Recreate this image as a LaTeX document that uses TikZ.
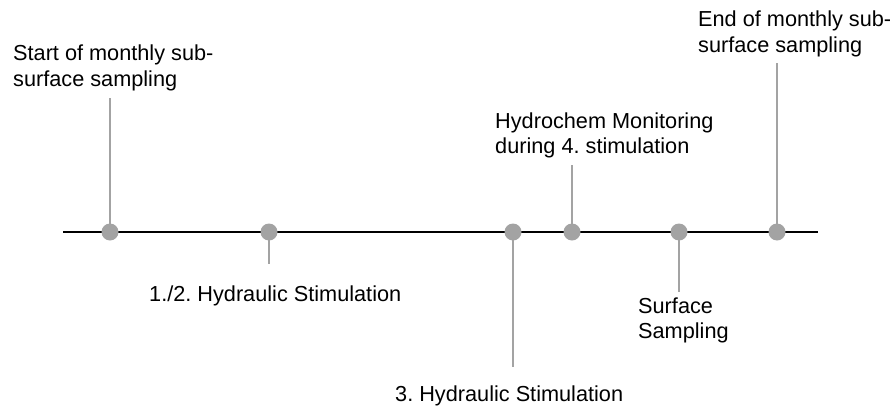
\documentclass[tikz,border=0pt]{standalone}
\usepackage{fontspec}
\setmainfont{Liberation Sans}
\frenchspacing
\definecolor{evgray}{RGB}{163,163,163}

\begin{document}
\begin{tikzpicture}[x=1pt,y=-1pt,font=\fontsize{21.7}{25.5}\selectfont,
  event/.style={circle,fill=evgray,inner sep=0pt,minimum size=17pt},
  stem/.style={draw=evgray,line width=2.3pt},
  lbl/.style={inner sep=0pt,align=left,anchor=base west}]

\useasboundingbox (0,0) rectangle (894,407);

\coordinate (t0) at (63,232);
\coordinate (t1) at (818,232);

% stem ends
\coordinate (s1) at (110,98);
\coordinate (s2) at (269,264);
\coordinate (s3) at (513,367);
\coordinate (s4) at (572,165);
\coordinate (s5) at (679,292);
\coordinate (s6) at (777,63);

\draw[line width=2.7pt] (t0) -- (t1);

\node[event] (e1) at (110,232) {};
\node[event] (e2) at (269,232) {};
\node[event] (e3) at (513,232) {};
\node[event] (e4) at (572,232) {};
\node[event] (e5) at (679,232) {};
\node[event] (e6) at (777,232) {};

\foreach \i in {1,...,6}
  \draw[stem] (e\i.center) -- (s\i);

% base anchor = last line
\node[lbl] (start) at (13,86.2) {Start of monthly sub-\\surface sampling};
\node[lbl] (stim12) at (149,301.7) {1./2. Hydraulic Stimulation};
\node[lbl] (stim3) at (395,401.7) {3. Hydraulic Stimulation};
\node[lbl] (hydro) at (495,153.8) {Hydrochem Monitoring\\during 4. stimulation};
\node[lbl] (surf) at (638,338.5) {Surface\\Sampling};
\node[lbl] (end) at (698,52.2) {End of monthly sub-\\surface sampling};

\end{tikzpicture}
\end{document}
